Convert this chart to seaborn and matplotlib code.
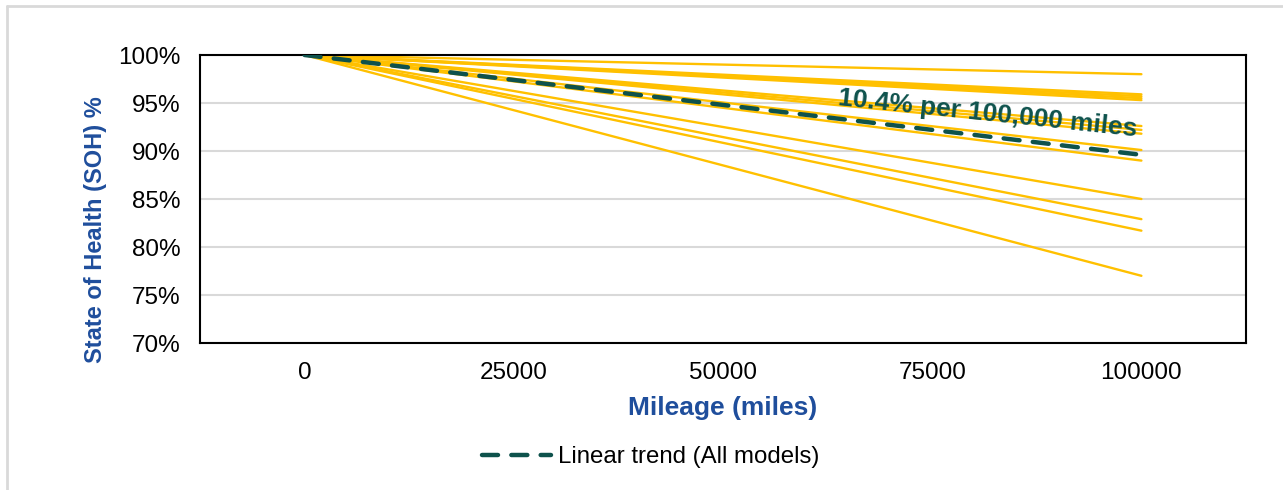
import matplotlib
matplotlib.use("Agg")
import matplotlib.pyplot as plt
import matplotlib.lines as mlines
import seaborn as sns
import pandas as pd
import numpy as np

# ---- data ----
mileage = [0, 100000]
start_soh = 100.0
model_end_soh = [98.0, 95.9, 95.7, 95.5, 95.3, 92.6, 92.2, 91.8, 90.1, 89.0, 85.0, 82.9, 81.7, 77.0]
trend_end_soh = 89.6
trend_label = "Linear trend (All models)"
annotation_text = "10.4% per 100,000 miles"
x_ticks = [0, 25000, 50000, 75000, 100000]
y_ticks = [70, 75, 80, 85, 90, 95, 100]

rows = []
for i, end in enumerate(model_end_soh):
    rows.append({"model": f"m{i}", "mileage": mileage[0], "soh": start_soh})
    rows.append({"model": f"m{i}", "mileage": mileage[1], "soh": end})
df = pd.DataFrame(rows)
trend_df = pd.DataFrame({"mileage": mileage, "soh": [start_soh, trend_end_soh]})

sns.set_theme(style="white")
plt.rcParams["font.family"] = ["Liberation Sans", "DejaVu Sans"]
plt.rcParams["text.color"] = "black"

YELLOW = "#FFC000"
TEAL = "#0E524C"
BLUE = "#1F4E9C"
GRID = "#D9D9D9"
DASH = (0, (3.6, 3.0))

fig = plt.figure(figsize=(12.83, 4.90), dpi=100)
ax = fig.add_axes([200 / 1283, 1 - 343 / 490, (1246 - 200) / 1283, (343 - 55) / 490])

sns.lineplot(data=df, x="mileage", y="soh", units="model", estimator=None,
             color=YELLOW, linewidth=1.7, ax=ax, legend=False, zorder=2)
sns.lineplot(data=trend_df, x="mileage", y="soh", color=TEAL, linewidth=3.2,
             ax=ax, legend=False, zorder=3, dashes=False)
ax.lines[-1].set_linestyle(DASH)
ax.lines[-1].set_dash_capstyle("round")

ax.set_xlim(-12500, 112500)
ax.set_ylim(70, 100)
ax.set_xticks(x_ticks)
ax.set_xticklabels([str(v) for v in x_ticks], fontsize=17.5)
ax.set_yticks(y_ticks)
ax.set_yticklabels([f"{v}%" for v in y_ticks], fontsize=17.5)
ax.tick_params(axis="both", length=0, pad=14, colors="black")
ax.yaxis.grid(True, color=GRID, linewidth=1.5, zorder=0)
ax.xaxis.grid(False)
ax.set_axisbelow(True)
for s in ax.spines.values():
    s.set_visible(True)
    s.set_color("black")
    s.set_linewidth(1.5)

ax.set_xlabel("Mileage (miles)", fontsize=19, fontweight="bold", color=BLUE)
ax.xaxis.set_label_coords((723 - 200) / (1246 - 200), -(408 - 343) / 288)
ax.set_ylabel("State of Health (SOH) %", fontsize=17, fontweight="bold", color=BLUE)
ax.yaxis.set_label_coords(-(200 - 95) / (1246 - 200), (343 - 230) / 288)
ax.xaxis.label.set_va("center")
ax.yaxis.label.set_va("center")

ax.text(81600, 93.9, annotation_text, fontsize=19, fontweight="bold", color=TEAL,
        rotation=-6, ha="center", va="center", rotation_mode="anchor", zorder=4)

handle = mlines.Line2D([], [], color=TEAL, linewidth=3.2, linestyle=DASH, dash_capstyle="round")
leg = fig.legend(handles=[handle], labels=[trend_label], loc="center",
                 bbox_to_anchor=(651 / 1283, 1 - 457 / 490), frameon=False, fontsize=17.3,
                 handlelength=2.85, handletextpad=0.3)
for t in leg.get_texts():
    t.set_color("black")

# outer chart border (top and left visible)
fig.add_artist(mlines.Line2D([7 / 1283, 1], [1 - 6 / 490, 1 - 6 / 490], color=GRID, linewidth=2,
                             transform=fig.transFigure))
fig.add_artist(mlines.Line2D([7 / 1283, 7 / 1283], [0, 1 - 6 / 490], color=GRID, linewidth=2,
                             transform=fig.transFigure))

fig.savefig("out.png", dpi=100)
